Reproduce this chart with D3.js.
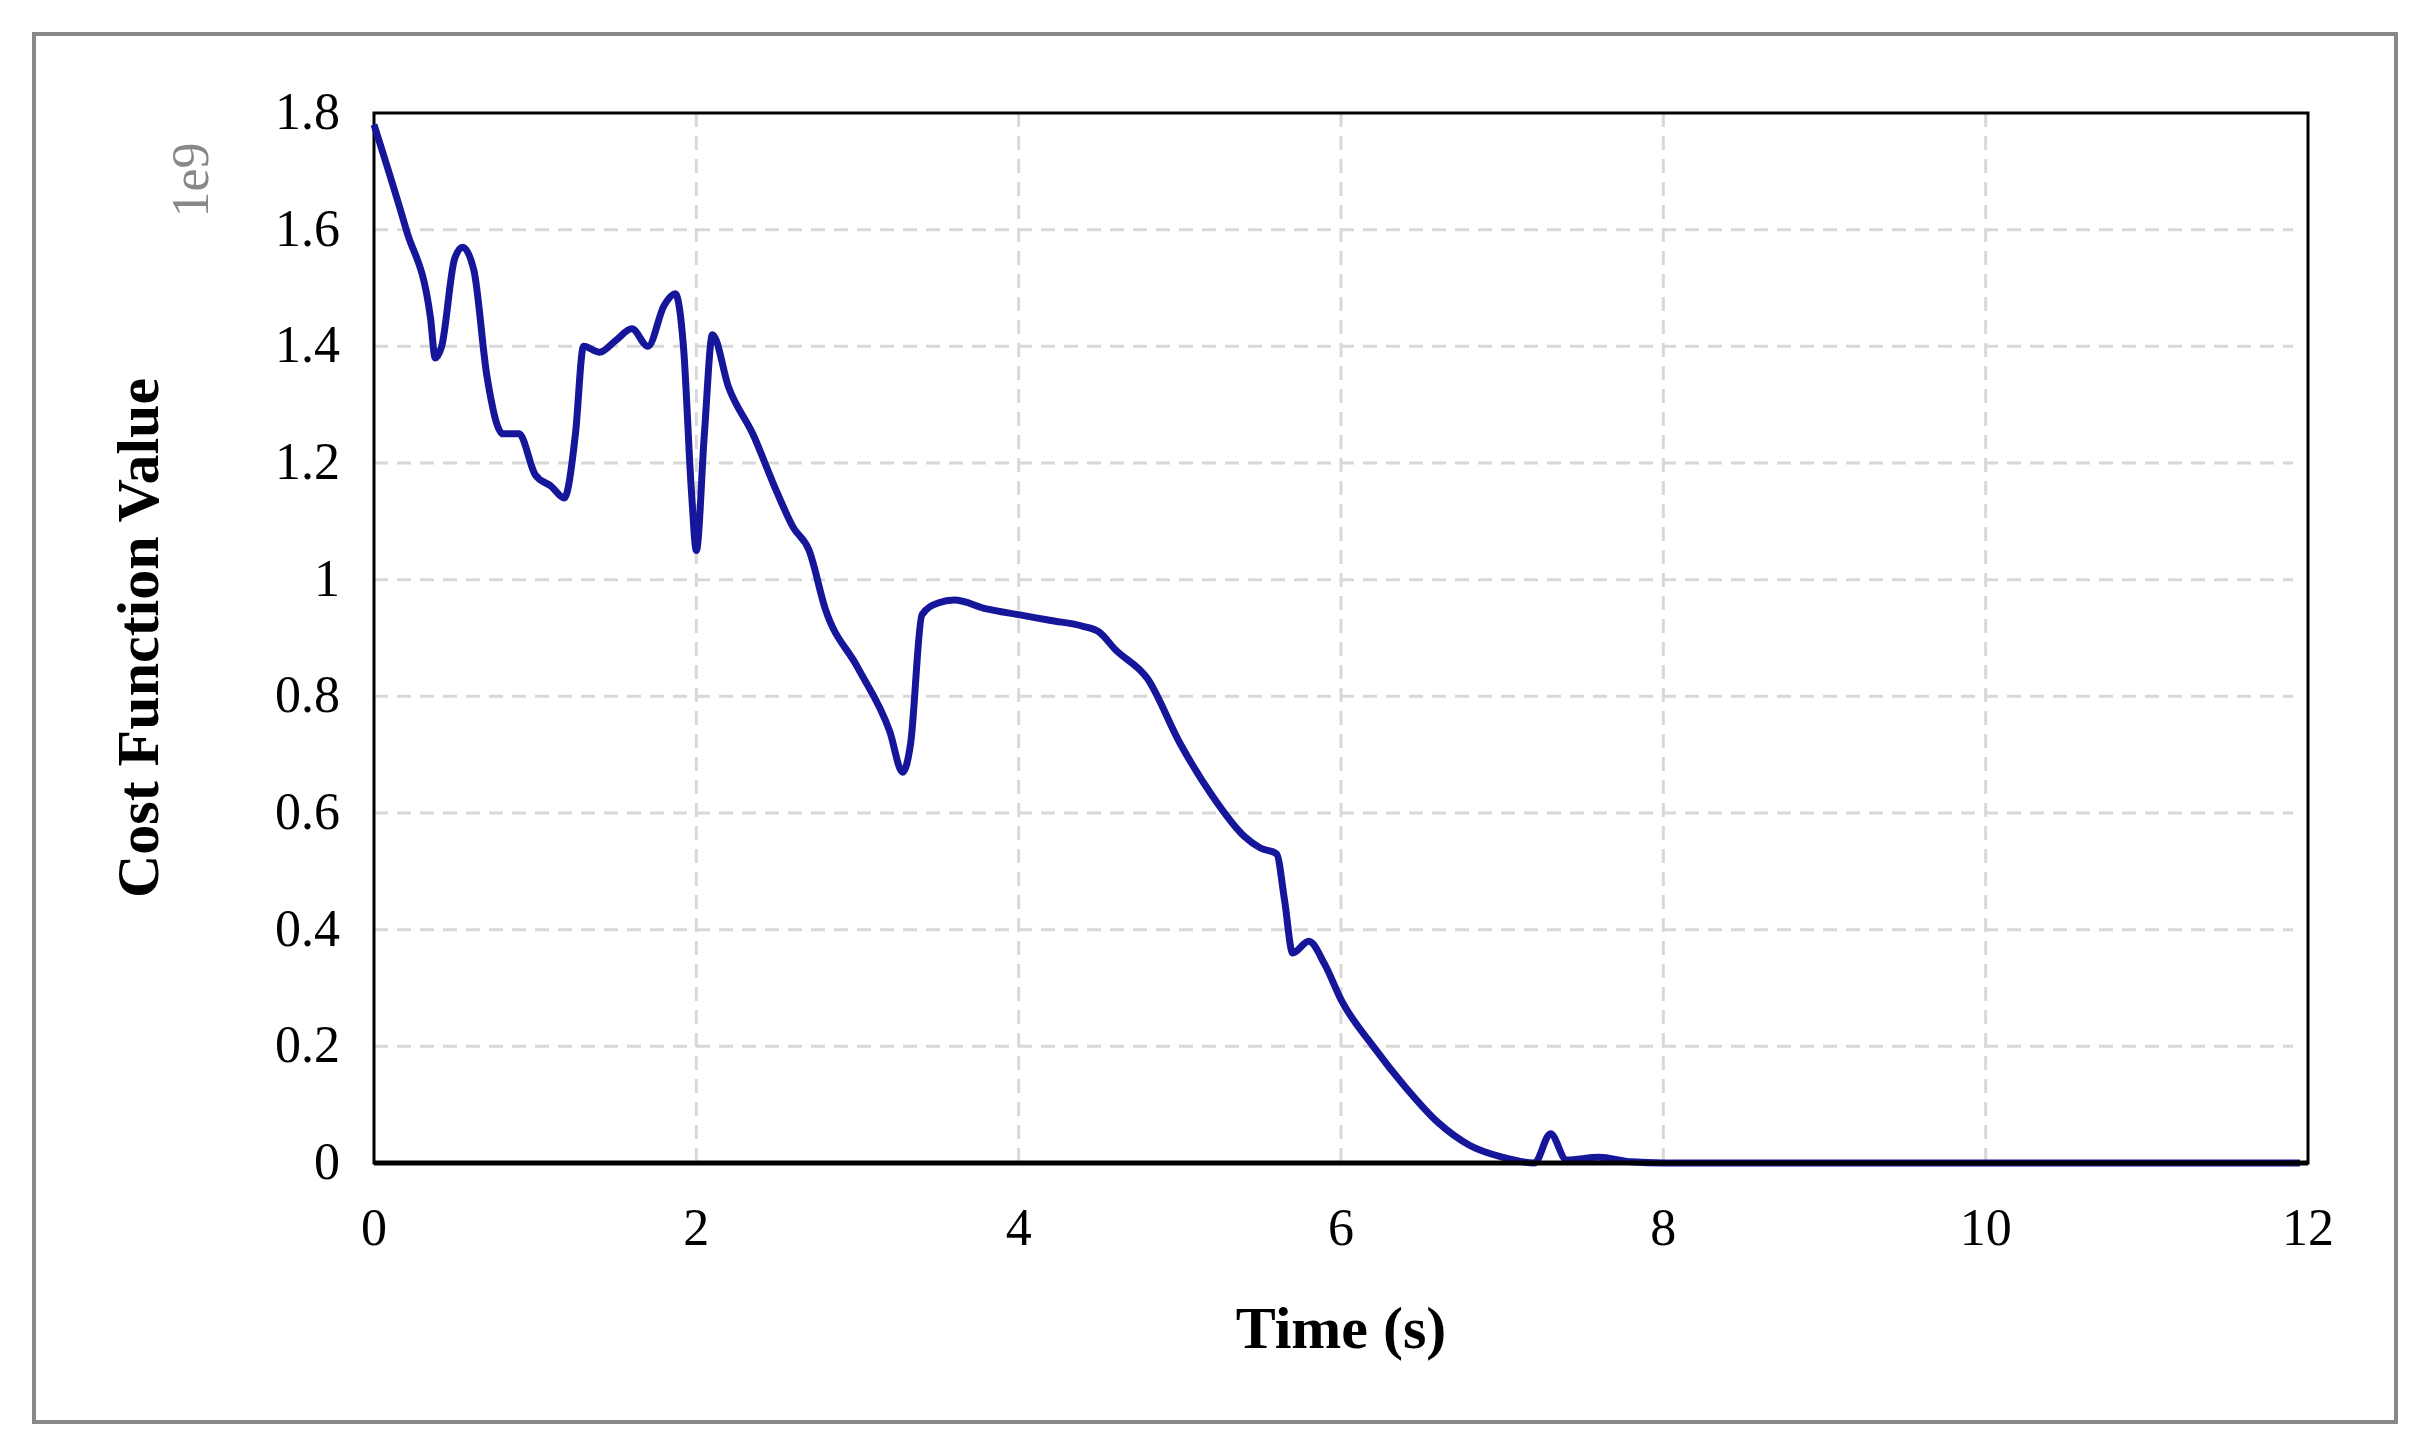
<!DOCTYPE html><html><head><meta charset="utf-8"><script src="https://cdn.jsdelivr.net/npm/d3@7"></script>
<style>body{margin:0;background:#fff}</style></head><body><svg id="c" width="2412" height="1453"></svg>
<script>
const times=[0,0.2,0.35,0.38,0.42,0.5,0.55,0.62,0.7,0.8,0.9,1.0,1.1,1.18,1.25,1.3,1.4,1.5,1.6,1.7,1.8,1.87,1.92,1.97,2.0,2.05,2.1,2.2,2.35,2.5,2.6,2.7,2.8,3.0,3.2,3.28,3.33,3.4,3.5,3.6,3.8,4.0,4.2,4.4,4.5,4.6,4.8,5.0,5.2,5.4,5.5,5.6,5.65,5.7,5.8,5.9,6.0,6.2,6.4,6.6,6.8,7.0,7.2,7.3,7.4,7.6,7.8,8.0,11.95];
const costs=[1.78,1.6,1.45,1.38,1.40,1.55,1.57,1.53,1.35,1.25,1.25,1.18,1.16,1.14,1.25,1.40,1.39,1.41,1.43,1.40,1.47,1.49,1.40,1.15,1.05,1.25,1.42,1.33,1.25,1.15,1.09,1.05,0.95,0.85,0.74,0.67,0.72,0.94,0.96,0.965,0.95,0.94,0.93,0.92,0.91,0.88,0.83,0.72,0.63,0.56,0.54,0.53,0.45,0.36,0.38,0.34,0.28,0.20,0.13,0.07,0.03,0.01,0.0,0.05,0.005,0.01,0.002,0,0];
const xTicks=[0,2,4,6,8,10,12];
const yTicks=[0,0.2,0.4,0.6,0.8,1,1.2,1.4,1.6,1.8];
const svg=d3.select("#c");
svg.append("rect").attr("x",34).attr("y",34).attr("width",2362).attr("height",1388).attr("fill","none").attr("stroke","#888").attr("stroke-width",4);
const L=374,R=2308,T=113,B=1163;
const x=d3.scaleLinear().domain([0,12]).range([L,R]);
const y=d3.scaleLinear().domain([0,1.8]).range([B,T]);
const g=svg.append("g").attr("font-family","Liberation Serif").attr("font-size",52);
g.selectAll(".gx").data(xTicks.slice(1,-1)).join("line").attr("x1",d=>x(d)).attr("x2",d=>x(d)).attr("y1",T).attr("y2",B).attr("stroke","#d8d8d8").attr("stroke-width",3).attr("stroke-dasharray","14,9");
g.selectAll(".gy").data(yTicks.slice(1,-1)).join("line").attr("x1",L).attr("x2",R-15).attr("y1",d=>y(d)).attr("y2",d=>y(d)).attr("stroke","#d8d8d8").attr("stroke-width",3).attr("stroke-dasharray","14,9");
g.append("rect").attr("x",L).attr("y",T).attr("width",R-L).attr("height",B-T).attr("fill","none").attr("stroke","#000").attr("stroke-width",3);
g.append("path").datum(times.map((t,i)=>[t,costs[i]])).attr("d",d3.line().x(d=>x(d[0])).y(d=>y(d[1])).curve(d3.curveMonotoneX)).attr("fill","none").attr("stroke","#16169a").attr("stroke-width",7);
g.append("line").attr("x1",L).attr("x2",R).attr("y1",B).attr("y2",B).attr("stroke","#000").attr("stroke-width",5);
g.selectAll(".tx").data(xTicks).join("text").attr("x",d=>x(d)).attr("y",B+82).attr("text-anchor","middle").text(d=>d);
g.selectAll(".ty").data(yTicks).join("text").attr("x",L-34).attr("y",d=>y(d)+16).attr("text-anchor","end").text(d=>d);
g.append("text").attr("x",(L+R)/2).attr("y",1348).attr("text-anchor","middle").attr("font-weight","bold").attr("font-size",60).text("Time (s)");
g.append("text").attr("transform",`translate(158,${(T+B)/2}) rotate(-90)`).attr("text-anchor","middle").attr("font-weight","bold").attr("font-size",60).text("Cost Function Value");
g.append("text").attr("transform",`translate(208,180) rotate(-90)`).attr("text-anchor","middle").attr("fill","#888").attr("font-size",52).text("1e9");
</script></body></html>
